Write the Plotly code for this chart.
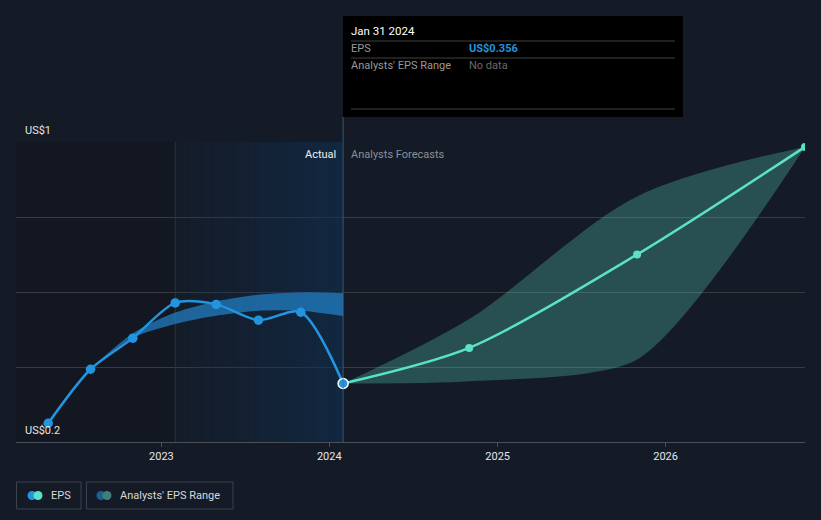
import plotly.graph_objects as go
import pandas as pd

# ---- data ----
eps_dates = ["2022-04-30", "2022-07-31", "2022-10-31", "2023-01-31", "2023-04-30",
             "2023-07-31", "2023-10-31", "2024-01-31"]
eps_values = [0.25, 0.394, 0.477, 0.571, 0.567, 0.525, 0.546, 0.356]

fc_dates = ["2024-01-31", "2024-10-31", "2025-10-31", "2026-10-31"]
fc_values = [0.356, 0.451, 0.70, 0.987]
fc_high = [0.356, 0.528, 0.855, 0.987]
fc_low = [0.356, 0.362, 0.42, 0.987]

past_range_dates = ["2022-07-31", "2022-10-31", "2023-01-31", "2023-04-30",
                    "2023-07-31", "2023-10-31", "2024-01-31"]
past_high = [0.395, 0.49, 0.545, 0.575, 0.593, 0.599, 0.597]
past_low = [0.395, 0.478, 0.515, 0.537, 0.550, 0.550, 0.536]

x_range = ["2022-02-19", "2026-10-31"]
y_range = [0.2, 1.0]
x_tick_vals = ["2023-01-01", "2024-01-01", "2025-01-01", "2026-01-01"]
x_tick_text = ["2023", "2024", "2025", "2026"]

BG = "#151b26"
BLUE = "#2394df"
MINT = "#5ce1c9"
FONT = "Roboto"

# plot area in pixels
L, R, T, B = 16, 805, 142, 442


def px(xp):
    return (xp - L) / (R - L)


def py(yp):
    return (B - yp) / (B - T)


fig = go.Figure()

# gradient background for the last year of actuals (styling only)
g_start = pd.Timestamp("2023-01-31")
g_end = pd.Timestamp("2024-01-31")
NG = 84
g_step = (g_end - g_start) / NG
g_x0_ms = (g_start + g_step / 2 - pd.Timestamp("1970-01-01")).total_seconds() * 1000
g_dx_ms = g_step.total_seconds() * 1000
g_z = [[i / (NG - 1) for i in range(NG)]]
fig.add_trace(go.Heatmap(x0=pd.to_datetime(g_x0_ms, unit="ms"), dx=g_dx_ms,
                         y=[0.6], z=g_z, zsmooth="fast", showscale=False,
                         zmin=0, zmax=1, hoverinfo="skip", dy=0.8,
                         colorscale=[[0, "rgba(16,45,75,0.08)"], [1, "rgba(16,48,82,0.62)"]]))

# past analysts range band
fig.add_trace(go.Scatter(x=past_range_dates, y=past_high, mode="lines",
                         line=dict(width=0, shape="spline", smoothing=0.8),
                         hoverinfo="skip", showlegend=False))
fig.add_trace(go.Scatter(x=past_range_dates, y=past_low, mode="lines",
                         line=dict(width=0, shape="spline", smoothing=0.8),
                         fill="tonexty", fillcolor="rgba(35,140,215,0.65)",
                         hoverinfo="skip", showlegend=False))

# forecast range band
fig.add_trace(go.Scatter(x=fc_dates, y=fc_high, mode="lines",
                         line=dict(width=0, shape="spline", smoothing=0.9),
                         hoverinfo="skip", showlegend=False))
fig.add_trace(go.Scatter(x=fc_dates, y=fc_low, mode="lines",
                         line=dict(width=0, shape="spline", smoothing=0.7),
                         fill="tonexty", fillcolor="rgba(92,225,201,0.27)",
                         hoverinfo="skip", showlegend=False))

# forecast EPS line
fig.add_trace(go.Scatter(x=fc_dates, y=fc_values, mode="lines+markers",
                         line=dict(color=MINT, width=2.5, shape="spline", smoothing=0.8),
                         marker=dict(color=MINT, size=8),
                         showlegend=False))

# actual EPS line
fig.add_trace(go.Scatter(x=eps_dates, y=eps_values, mode="lines+markers",
                         line=dict(color=BLUE, width=2.5, shape="spline", smoothing=0.8),
                         marker=dict(color=BLUE, size=9.5),
                         showlegend=False))

# highlighted last actual point
fig.add_trace(go.Scatter(x=[eps_dates[-1]], y=[eps_values[-1]], mode="markers",
                         marker=dict(color=BLUE, size=10, line=dict(color="white", width=1.5)),
                         showlegend=False))

shapes = []
# darker area before last year of actuals
shapes.append(dict(type="rect", xref="x", yref="paper", x0=x_range[0], x1="2023-01-31",
                   y0=0, y1=1, fillcolor="rgba(0,0,0,0.13)", line=dict(width=0), layer="below"))
# vertical separators
shapes.append(dict(type="line", xref="x", yref="paper", x0="2023-01-31", x1="2023-01-31",
                   y0=0, y1=1, line=dict(color="rgba(80,110,140,0.35)", width=1), layer="below"))
shapes.append(dict(type="line", xref="x", yref="paper", x0="2024-01-31", x1="2024-01-31",
                   y0=0, y1=py(117), line=dict(color="rgba(70,110,150,0.7)", width=1)))

# tooltip box
shapes.append(dict(type="rect", xref="paper", yref="paper", x0=px(343), x1=px(683),
                   y0=py(117), y1=py(16), fillcolor="#000000", line=dict(width=0)))
for yl in (41, 58, 109):
    shapes.append(dict(type="line", xref="paper", yref="paper", x0=px(351), x1=px(675),
                       y0=py(yl), y1=py(yl), line=dict(color="#404040", width=1)))

# legend boxes
shapes.append(dict(type="rect", xref="paper", yref="paper", x0=px(16.5), x1=px(81),
                   y0=py(509), y1=py(482), line=dict(color="#3c424c", width=1),
                   fillcolor="rgba(0,0,0,0)"))
shapes.append(dict(type="rect", xref="paper", yref="paper", x0=px(86.5), x1=px(233),
                   y0=py(509), y1=py(482), line=dict(color="#3c424c", width=1),
                   fillcolor="rgba(0,0,0,0)"))


def circle(cx, cy, r, color):
    return dict(type="circle", xref="paper", yref="paper", x0=px(cx - r), x1=px(cx + r),
                y0=py(cy + r), y1=py(cy - r), fillcolor=color, line=dict(width=0))


shapes.append(circle(32, 495.5, 4.5, BLUE))
shapes.append(circle(38, 495.5, 4.5, MINT))
shapes.append(circle(101, 495.5, 4.5, "#1f5f8f"))
shapes.append(circle(107, 495.5, 4.5, "#3d807a"))

ann = []


def text(xp, yp, s, color, size=11, xanchor="left", bold=False):
    ann.append(dict(xref="paper", yref="paper", x=px(xp), y=py(yp), text=(f"<b>{s}</b>" if bold else s),
                    showarrow=False, xanchor=xanchor, yanchor="middle",
                    font=dict(family=FONT, size=size, color=color)))


text(23, 130, "US$1", "#e6e6e6", 11)
text(23, 430, "US$0.2", "#e6e6e6", 11)
text(338, 154, "Actual", "#f0f0f0", 11, xanchor="right")
text(349, 154, "Analysts Forecasts", "#8a8f98", 11)
text(349, 31, "Jan 31 2024", "#ffffff", 11.5)
text(349, 49, "EPS", "#9a9a9a", 11)
text(467, 49, "US$0.356", BLUE, 11, bold=True)
text(349, 66, "Analysts' EPS Range", "#9a9a9a", 11)
text(467, 66, "No data", "#6a6a6a", 11)
text(49, 495.5, "EPS", "#d8d8d8", 11)
text(118, 495.5, "Analysts' EPS Range", "#d8d8d8", 11)

fig.update_layout(
    width=821, height=520,
    margin=dict(l=L, r=821 - R, t=T, b=520 - B),
    paper_bgcolor=BG, plot_bgcolor=BG,
    shapes=shapes, annotations=ann,
    showlegend=False,
    hovermode=False,
    font=dict(family=FONT, color="#e0e0e0"),
    xaxis=dict(type="date", range=x_range, tickvals=x_tick_vals, ticktext=x_tick_text,
               showgrid=False, showline=True, linecolor="#4a5059", linewidth=1,
               ticks="outside", ticklen=4, tickcolor="#4a5059",
               tickfont=dict(family=FONT, size=11, color="#e6e6e6"), zeroline=False,
               fixedrange=True),
    yaxis=dict(range=y_range, tickvals=[0.2, 0.4, 0.6, 0.8, 1.0], showticklabels=False,
               showgrid=True, gridcolor="#363b44", gridwidth=1, zeroline=False,
               showline=False, fixedrange=True),
)

fig.write_html("out.html")
